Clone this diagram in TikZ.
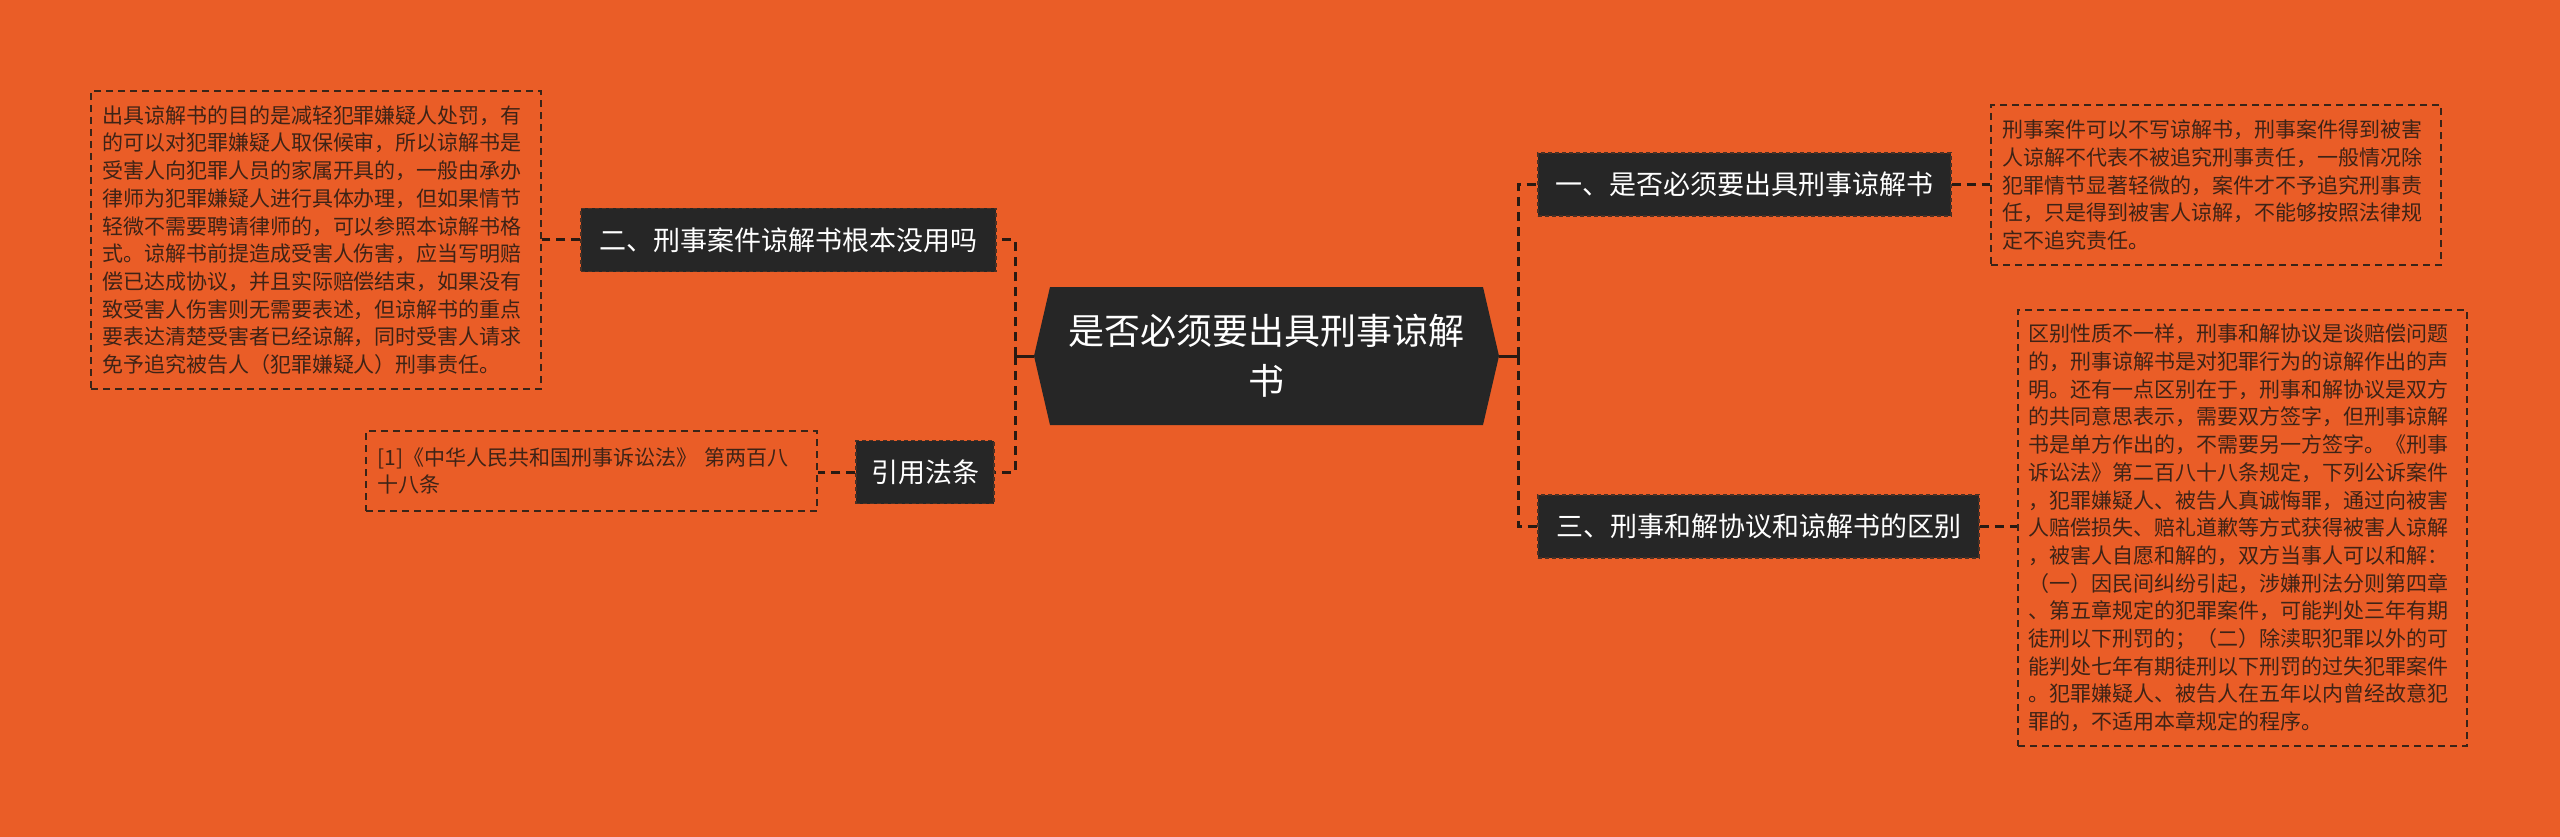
\documentclass[tikz,border=0pt]{standalone}
\usepackage{fontspec}
\newfontfamily\cjk{Noto Sans CJK SC}
\definecolor{bg}{HTML}{EA5D27}
\definecolor{dk}{HTML}{262626}
\definecolor{dkb}{HTML}{4A3024}
\definecolor{tx}{HTML}{3E2316}
\definecolor{tb}{HTML}{3A2418}
\definecolor{ln}{HTML}{2A1A12}
\begin{document}
\begin{tikzpicture}[x=1pt,y=-1pt,
  mainbox/.style={font=\cjk\fontsize{27}{32}\selectfont, text=white, fill=dk, draw=dkb, dash pattern=on 4pt off 3pt, line width=1.5pt, inner sep=0pt, minimum height=63pt, align=center},
  txtbox/.style={font=\cjk\fontsize{21}{27.7}\selectfont, text=tx, draw=tb, dash pattern=on 7pt off 5pt, line width=1.6pt, inner sep=0pt, align=left},
  conn/.style={draw=ln, line width=3pt, dash pattern=on 9pt off 6pt},
  stub/.style={draw=ln, line width=3pt}]
\useasboundingbox (0,0) rectangle (2560,837);
\fill[bg] (0,0) rectangle (2560,837);

% central hexagon
\fill[dk] (1050,287) -- (1483,287) -- (1499,356) -- (1483,425) -- (1050,425) -- (1034,356) -- cycle;
\node[font=\cjk\fontsize{36}{50}\selectfont, text=white, align=center] (c) at (1266,356) {是否必须要出具刑事谅解\\书};
\coordinate (cl) at (1034,356);
\coordinate (cr) at (1499,356);
\coordinate (ls) at (1015,356);
\coordinate (rs) at (1518,356);

% branch boxes
\node[mainbox, minimum width=415pt] (b2) at (788.5,240) {二、刑事案件谅解书根本没用吗};
\node[mainbox, minimum width=138pt] (b4) at (925,472) {引用法条};
\node[mainbox, minimum width=413pt] (b1) at (1744.5,184.5) {一、是否必须要出具刑事谅解书};
\node[mainbox, minimum width=441pt] (b3) at (1758.5,526.5) {三、刑事和解协议和谅解书的区别};

% text boxes
\node[txtbox, text width=428pt, minimum width=450pt, minimum height=298pt] (t2) at (316,240) {出具谅解书的目的是减轻犯罪嫌疑人处罚，有\\的可以对犯罪嫌疑人取保候审，所以谅解书是\\受害人向犯罪人员的家属开具的，一般由承办\\律师为犯罪嫌疑人进行具体办理，但如果情节\\轻微不需要聘请律师的，可以参照本谅解书格\\式。谅解书前提造成受害人伤害，应当写明赔\\偿已达成协议，并且实际赔偿结束，如果没有\\致受害人伤害则无需要表述，但谅解书的重点\\要表达清楚受害者已经谅解，同时受害人请求\\免予追究被告人（犯罪嫌疑人）刑事责任。};
\node[txtbox, text width=428pt, minimum width=451pt, minimum height=80pt] (t4) at (591.5,471) {[1]《中华人民共和国刑事诉讼法》 第两百八\\十八条};
\node[txtbox, text width=428pt, minimum width=450pt, minimum height=160pt] (t1) at (2216,185) {刑事案件可以不写谅解书，刑事案件得到被害\\人谅解不代表不被追究刑事责任，一般情况除\\犯罪情节显著轻微的，案件才不予追究刑事责\\任，只是得到被害人谅解，不能够按照法律规\\定不追究责任。};
\node[txtbox, text width=428pt, minimum width=449pt, minimum height=436pt] (t3) at (2242.5,528) {区别性质不一样，刑事和解协议是谈赔偿问题\\的，刑事谅解书是对犯罪行为的谅解作出的声\\明。还有一点区别在于，刑事和解协议是双方\\的共同意思表示，需要双方签字，但刑事谅解\\书是单方作出的，不需要另一方签字。《刑事\\诉讼法》第二百八十八条规定，下列公诉案件\\，犯罪嫌疑人、被告人真诚悔罪，通过向被害\\人赔偿损失、赔礼道歉等方式获得被害人谅解\\，被害人自愿和解的，双方当事人可以和解：\\（一）因民间纠纷引起，涉嫌刑法分则第四章\\、第五章规定的犯罪案件，可能判处三年有期\\徒刑以下刑罚的；（二）除渎职犯罪以外的可\\能判处七年有期徒刑以下刑罚的过失犯罪案件\\。犯罪嫌疑人、被告人在五年以内曾经故意犯\\罪的，不适用本章规定的程序。};

% connectors
\draw[stub] (cl) -- (ls);
\draw[stub] (cr) -- (rs);
\draw[conn] (ls) |- (b2.east);
\draw[conn] (ls) |- (b4.east);
\draw[conn] (rs) |- (b1.west);
\draw[conn] (rs) |- (b3.west);
\draw[conn] (b2.west) -- (t2.east |- b2.west);
\draw[conn] (b4.west) -- (t4.east |- b4.west);
\draw[conn] (b1.east) -- (t1.west |- b1.east);
\draw[conn] (b3.east) -- (t3.west |- b3.east);
\end{tikzpicture}
\end{document}
